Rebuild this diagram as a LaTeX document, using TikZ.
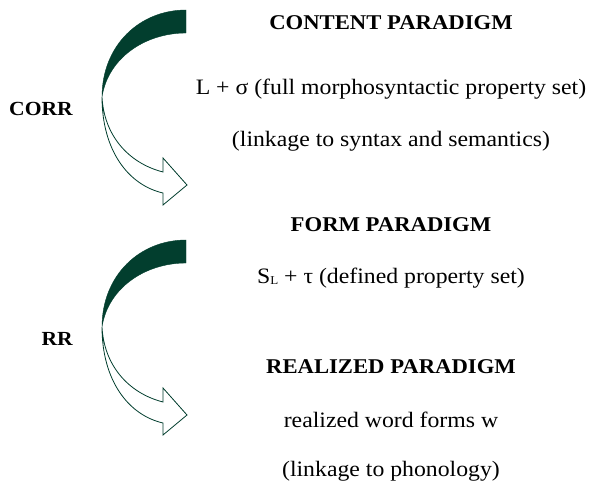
\documentclass[tikz,border=0pt]{standalone}
\usepackage{fontspec}
\setmainfont{Liberation Serif}[FakeStretch=1.08]
\definecolor{arrowgreen}{RGB}{2,62,46}
\tikzset{
  label text/.style={anchor=base, inner sep=0pt, font=\fontsize{22}{26}\selectfont},
  head text/.style={label text, font=\fontsize{21}{25}\selectfont\bfseries},
  side text/.style={anchor=base east, inner sep=0pt, font=\fontsize{20}{24}\selectfont\bfseries},
  band/.style={fill=arrowgreen, draw=arrowgreen, line width=0.4pt},
  outline/.style={draw=arrowgreen, fill=white, line width=0.8pt, line join=miter}
}
% one curved arrow: dark back band on top, outlined front with the head below
\newcommand{\curvedarrow}{%
  \path[outline] (102,97) .. controls (102,150) and (128,185) .. (163,193)
    -- (163,205) -- (187,185) -- (163,158) -- (163,172)
    .. controls (128,163) and (104,135) .. (102,97) -- cycle;
  \path[band] (186,10) .. controls (140,10) and (102,45) .. (102,97)
    .. controls (108,58) and (145,33) .. (186,33) -- cycle;
}
\newcommand{\lowsub}[1]{\raisebox{-0.15ex}{\fontsize{12}{14}\selectfont #1}}
\begin{document}
\begin{tikzpicture}[x=1pt, y=-1pt]
  \useasboundingbox (0,0) rectangle (589,489);
  \begin{scope}
    \curvedarrow
  \end{scope}
  \begin{scope}[yshift=-230pt]
    \curvedarrow
  \end{scope}

  \node[side text] (corr) at (73,116) {CORR};
  \node[side text] (rr) at (73,345) {RR};

  \node[head text] (content) at (391,30) {CONTENT PARADIGM};
  \node[label text] (lsigma) at (391,95) {L + σ (full morphosyntactic property set)};
  \node[label text] (syn) at (391,147) {(linkage to syntax and semantics)};

  \node[head text] (form) at (391,232) {FORM PARADIGM};
  \node[label text] (sltau) at (391,283) {S\lowsub{L} + τ (defined property set)};

  \node[head text] (real) at (391,373) {REALIZED PARADIGM};
  \node[label text] (words) at (391,427) {realized word forms w};
  \node[label text] (phon) at (391,476) {(linkage to phonology)};
\end{tikzpicture}
\end{document}
